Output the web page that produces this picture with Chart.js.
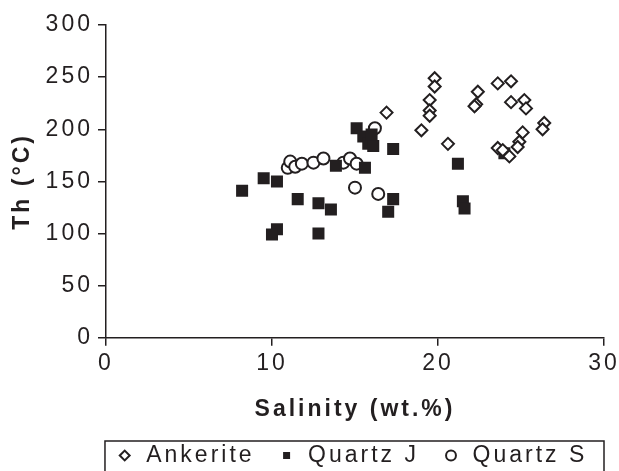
<!DOCTYPE html>
<html>
<head>
<meta charset="utf-8">
<script src="https://cdn.jsdelivr.net/npm/chart.js@4"></script>
<style>
  html, body { margin: 0; padding: 0; background: #fff; }
  #wrap { width: 619px; height: 471px; }
</style>
</head>
<body>
<div id="wrap"><canvas id="myChart" width="619" height="471"></canvas></div>
<script>
// salinity (wt.%) / Th (°C)
const ankeriteX = [16.9, 19.0, 19.8, 19.8, 19.5, 19.5, 19.5, 20.6, 22.4, 22.3, 22.2, 23.6, 24.4, 24.4, 25.2, 25.3, 26.4, 26.3, 25.1, 24.9, 24.8, 23.6, 24.3, 23.9];
const ankeriteY = [216, 199, 249, 241, 228, 218, 213, 186, 236, 224, 222, 244, 246, 226, 228, 220, 206, 200, 197, 188, 183, 182, 174, 180];

const quartzJX = [8.2, 9.5, 10.3, 11.55, 12.8, 13.55, 10.3, 10.0, 12.8, 15.1, 15.5, 15.8, 16.1, 16.0, 15.6, 13.85, 17.3, 17.3, 17.0, 21.2, 21.5, 21.6, 24.0];
const quartzJY = [141, 153, 150, 133, 129, 123, 104, 99, 100, 201, 193, 186, 184, 195, 163, 165, 181, 133, 121, 167, 131, 124, 177];

const quartzSX = [10.95, 11.1, 11.4, 11.8, 12.5, 13.1, 14.3, 14.7, 15.1, 16.2, 15.0, 16.4];
const quartzSY = [163, 169, 164, 167, 168, 172, 168, 172, 167, 201, 144, 138];

const xTicks = [0, 10, 20, 30];
const yTicks = [0, 50, 100, 150, 200, 250, 300];

const ink = '#231f20';
const fontFamily = '"Liberation Sans", Arial, sans-serif';

function toPoints(xs, ys) {
  return xs.map((x, i) => ({ x: x, y: ys[i] }));
}

// canvas letter spacing, the original text is spaced out
const spacing = {
  id: 'spacing',
  beforeUpdate(chart) { chart.ctx.letterSpacing = '3px'; },
  beforeDraw(chart) { chart.ctx.letterSpacing = '3px'; }
};

// legend centred under the plot, with a box round it
const legendFrame = {
  id: 'legendFrame',
  afterLayout(chart) {
    const lg = chart.legend;
    const x = chart.scales.x;
    const shift = (x.left + x.right) / 2 - (lg.left + lg.right) / 2 - 4;
    lg.left += shift;
    lg.right += shift;
  },
  afterDraw(chart) {
    const lg = chart.legend;
    const x = chart.scales.x;
    const ctx = chart.ctx;
    const rowTop = lg.legendHitBoxes.length ? lg.legendHitBoxes[0].top : lg.top;
    ctx.save();
    ctx.strokeStyle = ink;
    ctx.lineWidth = 1.5;
    ctx.strokeRect(x.left - 1, rowTop - 3, x.right - x.left + 1, chart.height);
    ctx.restore();
  }
};

const datasets = [
  {
    label: 'Ankerite',
    data: toPoints(ankeriteX, ankeriteY),
    pointStyle: 'rectRot',
    pointRadius: 6,
    pointBorderWidth: 2,
    borderColor: ink,
    backgroundColor: '#ffffff'
  },
  {
    label: 'Quartz J',
    data: toPoints(quartzJX, quartzJY),
    pointStyle: 'rect',
    pointRadius: 8.5,
    pointBorderWidth: 0,
    borderColor: ink,
    backgroundColor: ink
  },
  {
    label: 'Quartz S',
    data: toPoints(quartzSX, quartzSY),
    pointStyle: 'circle',
    pointRadius: 6,
    pointBorderWidth: 2,
    borderColor: ink,
    backgroundColor: '#ffffff'
  }
];

function axis(ticks, title, tickPad, titlePad) {
  return {
    type: 'linear',
    min: ticks[0],
    max: ticks[ticks.length - 1],
    afterBuildTicks: (s) => { s.ticks = ticks.map((v) => ({ value: v })); },
    ticks: { color: ink, font: { family: fontFamily, size: 23 }, padding: tickPad },
    grid: { display: true, drawOnChartArea: false, drawTicks: true, tickLength: 8, color: ink, lineWidth: 1.5 },
    border: { display: true, color: ink, width: 1.5 },
    title: { display: true, text: title, color: ink, font: { family: fontFamily, size: 23, weight: 'bold' }, padding: titlePad }
  };
}

const xAxis = axis(xTicks, 'Salinity (wt.%)', 4, { top: 14, bottom: -1 });
// room for the last label "30" only, as in the original
xAxis.afterFit = (s) => { s.paddingRight = 15; };

new Chart(document.getElementById('myChart'), {
  type: 'scatter',
  data: { datasets },
  options: {
    responsive: false,
    animation: false,
    events: [],
    layout: { padding: { top: 25, right: 0, left: 5, bottom: -6 } },
    plugins: {
      tooltip: { enabled: false },
      legend: {
        position: 'bottom',
        labels: {
          usePointStyle: true,
          boxWidth: 20,
          boxHeight: 7,
          padding: 22,
          color: ink,
          font: { family: fontFamily, size: 23 }
        }
      }
    },
    scales: {
      x: xAxis,
      y: axis(yTicks, 'Th (°C)', 5, { top: 4, bottom: 4 })
    }
  },
  plugins: [spacing, legendFrame]
});
</script>
</body>
</html>
